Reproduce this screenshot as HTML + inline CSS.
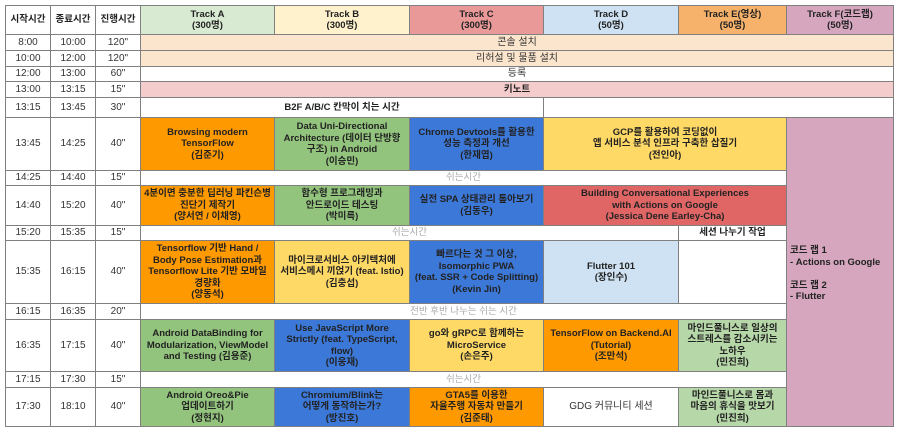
<!DOCTYPE html>
<html><head><meta charset="utf-8"><style>
body{margin:0;width:900px;height:433px;background:#fff;position:relative;overflow:hidden;font-family:"Liberation Sans","Noto Sans CJK KR",sans-serif;}
.c{position:absolute;box-sizing:border-box;border:1px solid #808080;display:flex;align-items:center;justify-content:center;text-align:center;font-size:9.5px;line-height:11.5px;color:#222;font-weight:bold;margin:0 -1px -1px 0;}
.n{font-weight:normal;color:#333;font-size:10px}
.g{font-weight:normal;color:#aaa}
.l{justify-content:flex-start;text-align:left;padding-left:3px}
</style></head><body>
<!-- header -->
<div class="c" style="left:5px;top:5px;width:46px;height:30px">시작시간</div>
<div class="c" style="left:50px;top:5px;width:46px;height:30px">종료시간</div>
<div class="c" style="left:95px;top:5px;width:46px;height:30px">진행시간</div>
<div class="c" style="left:140px;top:5px;width:135px;height:30px;background:#d9ead3">Track A<br>(300명)</div>
<div class="c" style="left:274px;top:5px;width:136px;height:30px;background:#fff2cc">Track B<br>(300명)</div>
<div class="c" style="left:409px;top:5px;width:135px;height:30px;background:#ea9999">Track C<br>(300명)</div>
<div class="c" style="left:543px;top:5px;width:136px;height:30px;background:#cfe2f3">Track D<br>(50명)</div>
<div class="c" style="left:678px;top:5px;width:109px;height:30px;background:#f6b26b">Track E(영상)<br>(50명)</div>
<div class="c" style="left:786px;top:5px;width:108px;height:30px;background:#d5a6bd">Track F(코드랩)<br>(50명)</div>

<!-- time columns -->
<div class="c n" style="left:5px;top:34px;width:46px;height:17px">8:00</div><div class="c n" style="left:50px;top:34px;width:46px;height:17px">10:00</div><div class="c n" style="left:95px;top:34px;width:46px;height:17px">120"</div>
<div class="c n" style="left:5px;top:50px;width:46px;height:17px">10:00</div><div class="c n" style="left:50px;top:50px;width:46px;height:17px">12:00</div><div class="c n" style="left:95px;top:50px;width:46px;height:17px">120"</div>
<div class="c n" style="left:5px;top:66px;width:46px;height:16px">12:00</div><div class="c n" style="left:50px;top:66px;width:46px;height:16px">13:00</div><div class="c n" style="left:95px;top:66px;width:46px;height:16px">60"</div>
<div class="c n" style="left:5px;top:81px;width:46px;height:17px">13:00</div><div class="c n" style="left:50px;top:81px;width:46px;height:17px">13:15</div><div class="c n" style="left:95px;top:81px;width:46px;height:17px">15"</div>
<div class="c n" style="left:5px;top:97px;width:46px;height:21px">13:15</div><div class="c n" style="left:50px;top:97px;width:46px;height:21px">13:45</div><div class="c n" style="left:95px;top:97px;width:46px;height:21px">30"</div>
<div class="c n" style="left:5px;top:117px;width:46px;height:54px">13:45</div><div class="c n" style="left:50px;top:117px;width:46px;height:54px">14:25</div><div class="c n" style="left:95px;top:117px;width:46px;height:54px">40"</div>
<div class="c n" style="left:5px;top:170px;width:46px;height:16px">14:25</div><div class="c n" style="left:50px;top:170px;width:46px;height:16px">14:40</div><div class="c n" style="left:95px;top:170px;width:46px;height:16px">15"</div>
<div class="c n" style="left:5px;top:185px;width:46px;height:41px">14:40</div><div class="c n" style="left:50px;top:185px;width:46px;height:41px">15:20</div><div class="c n" style="left:95px;top:185px;width:46px;height:41px">40"</div>
<div class="c n" style="left:5px;top:225px;width:46px;height:16px">15:20</div><div class="c n" style="left:50px;top:225px;width:46px;height:16px">15:35</div><div class="c n" style="left:95px;top:225px;width:46px;height:16px">15"</div>
<div class="c n" style="left:5px;top:240px;width:46px;height:64px">15:35</div><div class="c n" style="left:50px;top:240px;width:46px;height:64px">16:15</div><div class="c n" style="left:95px;top:240px;width:46px;height:64px">40"</div>
<div class="c n" style="left:5px;top:303px;width:46px;height:17px">16:15</div><div class="c n" style="left:50px;top:303px;width:46px;height:17px">16:35</div><div class="c n" style="left:95px;top:303px;width:46px;height:17px">20"</div>
<div class="c n" style="left:5px;top:319px;width:46px;height:53px">16:35</div><div class="c n" style="left:50px;top:319px;width:46px;height:53px">17:15</div><div class="c n" style="left:95px;top:319px;width:46px;height:53px">40"</div>
<div class="c n" style="left:5px;top:371px;width:46px;height:17px">17:15</div><div class="c n" style="left:50px;top:371px;width:46px;height:17px">17:30</div><div class="c n" style="left:95px;top:371px;width:46px;height:17px">15"</div>
<div class="c n" style="left:5px;top:387px;width:46px;height:40px">17:30</div><div class="c n" style="left:50px;top:387px;width:46px;height:40px">18:10</div><div class="c n" style="left:95px;top:387px;width:46px;height:40px">40"</div>

<!-- full rows -->
<div class="c n" style="left:140px;top:34px;width:754px;height:17px;background:#fce5cd">콘솔 설치</div>
<div class="c n" style="left:140px;top:50px;width:754px;height:17px;background:#fce5cd">리허설 및 물품 설치</div>
<div class="c n" style="left:140px;top:66px;width:754px;height:16px">등록</div>
<div class="c" style="left:140px;top:81px;width:754px;height:17px;background:#f4cccc">키노트</div>
<div class="c" style="left:140px;top:97px;width:404px;height:21px">B2F A/B/C 칸막이 치는 시간</div>
<div class="c" style="left:543px;top:97px;width:351px;height:21px"></div>

<!-- F column -->
<div class="c l" style="left:786px;top:117px;width:108px;height:310px;background:#d5a6bd;flex-direction:column;justify-content:center;align-items:flex-start;padding-top:4px">코드 랩 1<br>- Actions on Google<br><br>코드 랩 2<br>- Flutter</div>

<!-- 13:45 -->
<div class="c" style="left:140px;top:117px;width:135px;height:54px;background:#ff9900">Browsing modern<br>TensorFlow<br>(김준기)</div>
<div class="c" style="left:274px;top:117px;width:136px;height:54px;background:#93c47d">Data Uni-Directional<br>Architecture (데이터 단방향<br>구조) in Android<br>(이승민)</div>
<div class="c" style="left:409px;top:117px;width:135px;height:54px;background:#3c78d8">Chrome Devtools를 활용한<br>성능 측정과 개선<br>(한재엽)</div>
<div class="c" style="left:543px;top:117px;width:244px;height:54px;background:#ffd966">GCP를 활용하여 코딩없이<br>앱 서비스 분석 인프라 구축한 삽질기<br>(전인아)</div>
<div class="c g" style="left:140px;top:170px;width:647px;height:16px">쉬는시간</div>

<!-- 14:40 -->
<div class="c" style="left:140px;top:185px;width:135px;height:41px;background:#ff9900">4분이면 충분한 딥러닝 파킨슨병<br>진단기 제작기<br>(양서연 / 이채영)</div>
<div class="c" style="left:274px;top:185px;width:136px;height:41px;background:#93c47d">함수형 프로그래밍과<br>안드로이드 테스팅<br>(박미륵)</div>
<div class="c" style="left:409px;top:185px;width:135px;height:41px;background:#3c78d8">실전 SPA 상태관리 톺아보기<br>(김동우)</div>
<div class="c" style="left:543px;top:185px;width:244px;height:41px;background:#e06666">Building Conversational Experiences<br>with Actions on Google<br>(Jessica Dene Earley-Cha)</div>
<div class="c g" style="left:140px;top:225px;width:539px;height:16px">쉬는시간</div>
<div class="c" style="left:678px;top:225px;width:109px;height:16px">세션 나누기 작업</div>

<!-- 15:35 -->
<div class="c" style="left:140px;top:240px;width:135px;height:64px;background:#ff9900">Tensorflow 기반 Hand /<br>Body Pose Estimation과<br>Tensorflow Lite 기반 모바일<br>경량화<br>(양동석)</div>
<div class="c" style="left:274px;top:240px;width:136px;height:64px;background:#ffd966">마이크로서비스 아키텍처에<br>서비스메시 끼얹기 (feat. Istio)<br>(김충섭)</div>
<div class="c" style="left:409px;top:240px;width:135px;height:64px;background:#3c78d8">빠르다는 것 그 이상,<br>Isomorphic PWA<br>(feat. SSR + Code Splitting)<br>(Kevin Jin)</div>
<div class="c" style="left:543px;top:240px;width:136px;height:64px;background:#cfe2f3">Flutter 101<br>(장인수)</div>
<div class="c" style="left:678px;top:240px;width:109px;height:64px"></div>
<div class="c g" style="left:140px;top:303px;width:647px;height:17px">전반 후반 나누는 쉬는 시간</div>

<!-- 16:35 -->
<div class="c" style="left:140px;top:319px;width:135px;height:53px;background:#93c47d">Android DataBinding for<br>Modularization, ViewModel<br>and Testing (김용준)</div>
<div class="c" style="left:274px;top:319px;width:136px;height:53px;background:#3c78d8">Use JavaScript More<br>Strictly (feat. TypeScript,<br>flow)<br>(이웅재)</div>
<div class="c" style="left:409px;top:319px;width:135px;height:53px;background:#ffd966">go와 gRPC로 함께하는<br>MicroService<br>(손은주)</div>
<div class="c" style="left:543px;top:319px;width:136px;height:53px;background:#ff9900">TensorFlow on Backend.AI<br>(Tutorial)<br>(조만석)</div>
<div class="c" style="left:678px;top:319px;width:109px;height:53px;background:#b6d7a8">마인드풀니스로 일상의<br>스트레스를 감소시키는<br>노하우<br>(민진희)</div>
<div class="c g" style="left:140px;top:371px;width:647px;height:17px">쉬는시간</div>

<!-- 17:30 -->
<div class="c" style="left:140px;top:387px;width:135px;height:40px;background:#93c47d">Android Oreo&amp;Pie<br>업데이트하기<br>(정현지)</div>
<div class="c" style="left:274px;top:387px;width:136px;height:40px;background:#3c78d8">Chromium/Blink는<br>어떻게 동작하는가?<br>(방진호)</div>
<div class="c" style="left:409px;top:387px;width:135px;height:40px;background:#ff9900">GTA5를 이용한<br>자율주행 자동차 만들기<br>(김준태)</div>
<div class="c n" style="left:543px;top:387px;width:136px;height:40px">GDG 커뮤니티 세션</div>
<div class="c" style="left:678px;top:387px;width:109px;height:40px;background:#b6d7a8">마인드풀니스로 몸과<br>마음의 휴식을 맛보기<br>(민진희)</div>
</body></html>
